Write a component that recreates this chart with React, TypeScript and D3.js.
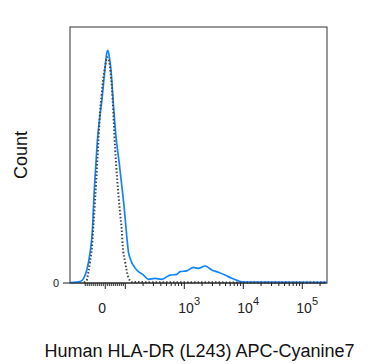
import React, { useRef, useEffect } from "react";
import * as d3 from "d3";

// stained sample (solid blue): fluorescence value -> % of max count
const STAINED_X = [-174, -122, -107, -92, -76, -64, -56, -47, -39, -29, -17, -9.5, -1, 7.5, 12.5, 20.4, 29, 40, 54, 69, 82, 94, 106, 113, 120, 156, 202, 246, 319, 415, 573, 745, 847, 1100, 1420, 1730, 2250, 2920, 3780, 4910, 6370, 8240, 10000, 262144];
const STAINED_Y = [0.2, 0.6, 1.9, 5.6, 12.9, 22.8, 37.8, 50.7, 61.4, 70, 78.6, 85, 92.4, 98.8, 100, 97.1, 91.1, 77.3, 62.4, 52, 42.1, 32.7, 19.8, 13.3, 10.7, 5.6, 3.5, 1.6, 2, 1.6, 3.4, 3.7, 4.9, 5.2, 6.7, 6.3, 7.3, 5.6, 4.6, 3.4, 2, 0.9, 0.4, 0.3];

// isotype control (dotted grey)
const ISO_X = [-105, -92, -84, -76, -67, -59, -51, -39, -34, -26, -17, -11, -1, 9, 15.5, 27, 37, 49, 60, 74, 82, 87, 99, 113, 129, 262144];
const ISO_Y = [0.2, 1.3, 4.7, 9, 15, 24.9, 35.7, 53.7, 61.4, 73.5, 81.6, 87.2, 92.8, 97, 96.5, 90.2, 78.6, 58, 44, 30, 23, 16, 9, 2.3, 0.4, 0.2];

const LABELED_DECADES = [3, 4, 5];
const X_TITLE = "Human HLA-DR (L243) APC-Cyanine7";
const Y_TITLE = "Count";

// biexponential-ish transform: linear below 100, log above
const LIN = 0.34;
const biex = (v: number) => {
    const a = Math.abs(v);
    return a <= 100 ? (v / 100) * LIN : Math.sign(v) * (LIN + Math.log10(a / 100));
};

export default function App() {
    const svgRef = useRef<SVGSVGElement>(null);

    useEffect(() => {
        const width = 375, height = 364;
        const left = 70, right = 327, top = 27, bottom = 283;
        const font = "Liberation Sans, Arial, sans-serif";

        const xs = d3.scaleLinear().domain([biex(-181), biex(262144)]).range([left, right]);
        const x = (v: number) => xs(biex(v));
        const y = d3.scaleLinear().domain([0, 110]).range([bottom, top]);

        const svg = d3.select(svgRef.current);
        svg.selectAll("*").remove();
        svg.attr("width", width).attr("height", height);

        svg.append("rect")
            .attr("x", left).attr("y", top)
            .attr("width", right - left).attr("height", bottom - top)
            .attr("fill", "#fff")
            .attr("stroke", "#333")
            .attr("stroke-width", 1);

        const line = d3.line<[number, number]>()
            .x(d => x(d[0]))
            .y(d => y(d[1]))
            .curve(d3.curveMonotoneX);

        svg.append("path")
            .datum(STAINED_X.map((v, i) => [v, STAINED_Y[i]] as [number, number]))
            .attr("d", line)
            .attr("fill", "none")
            .attr("stroke", "#0f85ff")
            .attr("stroke-width", 1.7);

        svg.append("path")
            .datum(ISO_X.map((v, i) => [v, ISO_Y[i]] as [number, number]))
            .attr("d", line)
            .attr("fill", "none")
            .attr("stroke", "#444")
            .attr("stroke-width", 2)
            .attr("stroke-dasharray", "1.5 2");

        // x axis baseline (extends left as the y "0" tick)
        svg.append("line")
            .attr("x1", left - 7).attr("x2", right)
            .attr("y1", bottom).attr("y2", bottom)
            .attr("stroke", "#222");

        // ticks
        const major = [0, 100, 1e3, 1e4, 1e5];
        const minor: number[] = [-100];
        for (let k = 1; k <= 9; k++) { minor.push(k * 10, -k * 10); }
        for (let d = 2; d <= 5; d++) {
            for (let k = 2; k <= 9; k++) {
                const v = k * Math.pow(10, d);
                if (v <= 262144) minor.push(v);
            }
        }
        const tg = svg.append("g").attr("stroke", "#222").attr("stroke-width", 1);
        tg.selectAll("line.minor").data(minor).join("line")
            .attr("class", "minor")
            .attr("x1", d => x(d)).attr("x2", d => x(d))
            .attr("y1", bottom).attr("y2", bottom + 3);
        tg.selectAll("line.major").data(major).join("line")
            .attr("class", "major")
            .attr("x1", d => x(d)).attr("x2", d => x(d))
            .attr("y1", bottom).attr("y2", bottom + 6);

        // tick labels
        svg.append("text")
            .attr("x", x(0) - 3).attr("y", 313)
            .attr("text-anchor", "middle")
            .style("font-family", font).style("font-size", "14px").style("fill", "#222")
            .text("0");

        LABELED_DECADES.forEach(d => {
            const t = svg.append("text")
                .attr("x", x(Math.pow(10, d)) - 6).attr("y", 313)
                .style("font-family", font).style("font-size", "14px").style("fill", "#222");
            t.append("tspan").text("10");
            t.append("tspan").attr("dy", -8).style("font-size", "11px").text(String(d));
        });

        svg.append("text")
            .attr("x", left - 11).attr("y", bottom + 4)
            .attr("text-anchor", "end")
            .style("font-family", font).style("font-size", "11px").style("fill", "#222")
            .text("0");

        // titles
        svg.append("text")
            .attr("x", (left + right) / 2 + 1).attr("y", 357)
            .attr("text-anchor", "middle")
            .style("font-family", font).style("font-size", "18px").style("fill", "#111")
            .text(X_TITLE);

        svg.append("text")
            .attr("transform", `translate(27,155) rotate(-90)`)
            .attr("text-anchor", "middle")
            .style("font-family", font).style("font-size", "18px").style("fill", "#111")
            .text(Y_TITLE);
    }, []);

    return (
        <svg
            ref={svgRef}
            style={{ position: "absolute", left: 0, top: 0, background: "#fff", display: "block" }}
        />
    );
}
